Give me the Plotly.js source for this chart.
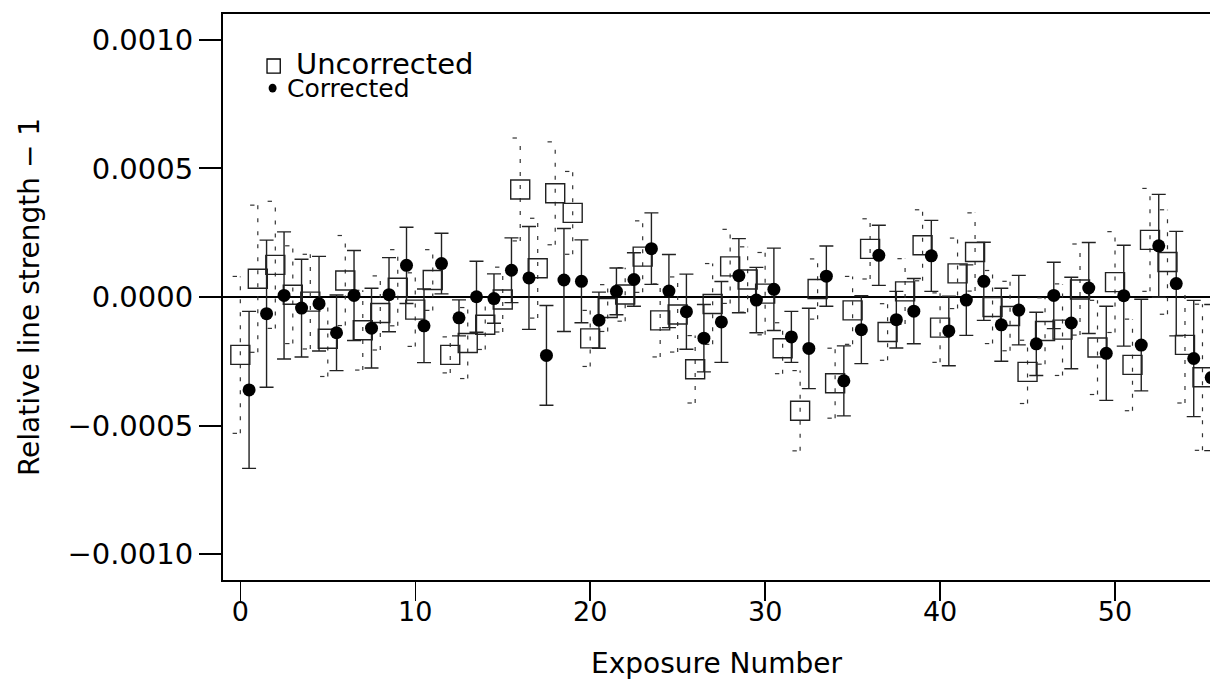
<!DOCTYPE html>
<html>
<head>
<meta charset="utf-8">
<script src="https://cdn.plot.ly/plotly-3.0.1.min.js"></script>
<style>html,body{margin:0;padding:0;background:#fff;}#chart{width:1210px;height:680px;}</style>
</head>
<body>
<div id="chart"></div>
<script>
// Exposure numbers
const exposure = [0,1,2,3,4,5,6,7,8,9,10,11,12,13,14,15,16,17,18,19,20,21,22,23,24,25,26,27,28,29,30,31,32,33,34,35,36,37,38,39,40,41,42,43,44,45,46,47,48,49,50,51,52,53,54,55];
// Uncorrected relative line strength - 1
const uncorrected = [-2.25e-4,0.71e-4,1.25e-4,0.09e-4,-0.18e-4,-1.62e-4,0.64e-4,-1.29e-4,-0.62e-4,0.36e-4,-0.49e-4,0.66e-4,-2.25e-4,-1.79e-4,-1.08e-4,-0.10e-4,4.18e-4,1.12e-4,4.03e-4,3.27e-4,-1.61e-4,-0.43e-4,0.10e-4,1.57e-4,-0.91e-4,-0.68e-4,-2.81e-4,-0.27e-4,1.19e-4,0.68e-4,0.13e-4,-1.99e-4,-4.42e-4,0.31e-4,-3.35e-4,-0.52e-4,1.87e-4,-1.36e-4,0.22e-4,2.01e-4,-1.19e-4,0.92e-4,1.75e-4,-0.39e-4,-0.74e-4,-2.91e-4,-1.32e-4,-1.27e-4,0.29e-4,-1.96e-4,0.58e-4,-2.64e-4,2.22e-4,1.36e-4,-1.86e-4,-3.12e-4];
// Corrected relative line strength - 1
const corrected = [-3.61e-4,-0.65e-4,0.06e-4,-0.43e-4,-0.26e-4,-1.39e-4,0.06e-4,-1.21e-4,0.09e-4,1.23e-4,-1.12e-4,1.30e-4,-0.81e-4,0.01e-4,-0.06e-4,1.04e-4,0.74e-4,-2.27e-4,0.66e-4,0.61e-4,-0.90e-4,0.22e-4,0.68e-4,1.88e-4,0.23e-4,-0.57e-4,-1.60e-4,-0.97e-4,0.83e-4,-0.12e-4,0.30e-4,-1.55e-4,-2.00e-4,0.81e-4,-3.26e-4,-1.27e-4,1.62e-4,-0.88e-4,-0.55e-4,1.60e-4,-1.32e-4,-0.12e-4,0.61e-4,-1.08e-4,-0.51e-4,-1.82e-4,0.06e-4,-1.01e-4,0.35e-4,-2.19e-4,0.05e-4,-1.87e-4,1.99e-4,0.52e-4,-2.39e-4,-3.13e-4];
// 1-sigma errors (same for both series)
const errors = [3.05e-4,2.86e-4,2.47e-4,1.90e-4,1.84e-4,1.47e-4,1.75e-4,1.55e-4,1.44e-4,1.48e-4,1.43e-4,1.18e-4,0.70e-4,1.38e-4,0.96e-4,1.26e-4,2.00e-4,1.94e-4,2.00e-4,1.61e-4,1.09e-4,0.91e-4,1.04e-4,1.39e-4,1.42e-4,1.46e-4,1.31e-4,1.57e-4,1.44e-4,1.27e-4,1.60e-4,0.99e-4,1.56e-4,1.17e-4,1.36e-4,1.32e-4,1.17e-4,1.10e-4,1.27e-4,1.38e-4,1.35e-4,1.37e-4,1.52e-4,1.42e-4,1.35e-4,1.23e-4,1.29e-4,1.78e-4,1.77e-4,1.83e-4,1.96e-4,1.78e-4,2.00e-4,2.03e-4,2.26e-4,2.84e-4];

const yTickVals = [-0.0010,-0.0005,0.0000,0.0005,0.0010];
const yTickText = ['\u22120.0010','\u22120.0005','0.0000','0.0005','0.0010'];
const xTickVals = [0,10,20,30,40,50];

const FONT = '"DejaVu Sans", "Liberation Sans", sans-serif';
const corrOffset = 0.5;
const xCorr = exposure.map(v => v + corrOffset);
const xRange = [-0.99, 55.43];

// dashed error bars for uncorrected
const dashX = [], dashY = [], capX = [], capY = [];
exposure.forEach((x, i) => {
  const lo = uncorrected[i] - errors[i], hi = uncorrected[i] + errors[i];
  dashX.push(x, x, null); dashY.push(lo, hi, null);
  capX.push(x - 0.44, x - 0.19, null, x - 0.44, x - 0.19, null);
  capY.push(hi, hi, null, lo, lo, null);
});

const traces = [
  {type:'scatter', mode:'lines', x:dashX, y:dashY, hoverinfo:'skip',
   line:{color:'#333', width:1.2, dash:'4px,9px'}, showlegend:false},
  {type:'scatter', mode:'lines', x:capX, y:capY, hoverinfo:'skip',
   line:{color:'#333', width:1.2}, showlegend:false},
  {type:'scatter', mode:'markers', x:exposure, y:uncorrected, name:'Uncorrected',
   marker:{symbol:'square-open', size:19, color:'#222', line:{width:1.4}}, showlegend:false},
  {type:'scatter', mode:'markers', x:xCorr, y:corrected, name:'Corrected',
   marker:{symbol:'circle', size:13, color:'#000'},
   error_y:{type:'data', array:errors, visible:true, thickness:1.4, width:7, color:'#222'},
   showlegend:false},
  // carrier for the label axis (no marks)
  {type:'scatter', mode:'markers', x:[], y:[], xaxis:'x2', yaxis:'y', showlegend:false, hoverinfo:'skip'}
];

const layout = {
  width:1210, height:680,
  margin:{l:223, r:0, t:14, b:100},
  paper_bgcolor:'#fff', plot_bgcolor:'#fff',
  showlegend:false,
  font:{family:FONT, color:'#000'},
  xaxis:{
    range:xRange, showgrid:false, zeroline:false,
    showline:true, linewidth:2, linecolor:'#000', mirror:true,
    ticks:'outside', ticklen:19, tickwidth:1.5, tickcolor:'#000',
    tickvals:xTickVals, showticklabels:false
  },
  xaxis2:{
    overlaying:'x', anchor:'y', side:'bottom',
    range:xRange, showgrid:false, zeroline:false, showline:false,
    ticks:'outside', ticklen:8, tickcolor:'rgba(0,0,0,0)',
    tickvals:xTickVals, tickfont:{size:27, family:FONT},
    title:{text:'Exposure Number', font:{size:28, family:FONT}, standoff:26}
  },
  yaxis:{
    range:[-0.0011, 0.0011], showgrid:false,
    zeroline:true, zerolinewidth:2, zerolinecolor:'#000',
    showline:true, linewidth:2, linecolor:'#000',
    ticks:'outside', ticklen:22, tickwidth:2, tickcolor:'#000',
    tickvals:yTickVals, ticktext:yTickText, tickfont:{size:29, family:FONT},
    title:{text:'Relative line strength \u2212 1', font:{size:28, family:FONT}, standoff:20}
  },
  shapes:[
    {type:'rect', xref:'paper', yref:'paper', x0:0.0446, x1:0.058, y0:0.8957, y1:0.9205, line:{color:'#000', width:1.3}},
    {type:'circle', xref:'paper', yref:'paper', x0:0.0462, x1:0.0543, y0:0.8614, y1:0.8768, fillcolor:'#000', line:{color:'#000', width:0}}
  ],
  annotations:[
    {xref:'paper', yref:'paper', x:0.0722, y:0.9125, xanchor:'left', yanchor:'middle', showarrow:false,
     text:'Uncorrected', font:{size:29, family:FONT, color:'#000'}},
    {xref:'paper', yref:'paper', x:0.0631, y:0.8676, xanchor:'left', yanchor:'middle', showarrow:false,
     text:'Corrected', font:{size:25, family:FONT, color:'#000'}}
  ]
};

Plotly.newPlot('chart', traces, layout, {displayModeBar:false, staticPlot:true});
</script>
</body>
</html>
